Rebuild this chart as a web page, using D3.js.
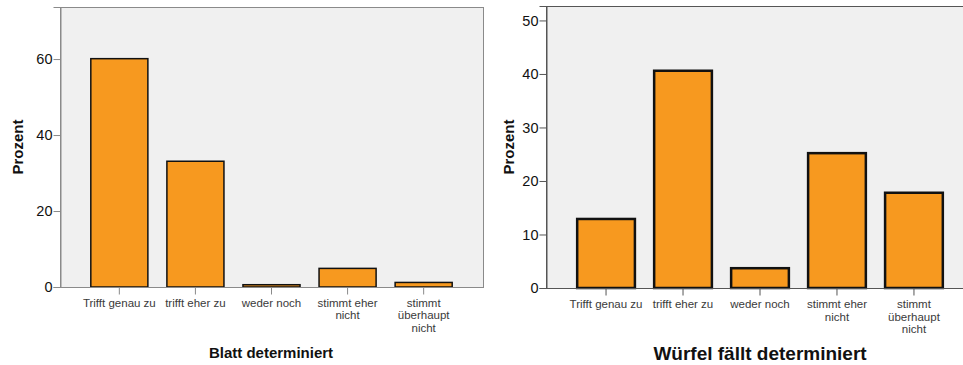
<!DOCTYPE html>
<html>
<head>
<meta charset="utf-8">
<script src="https://cdn.jsdelivr.net/npm/d3@7"></script>
<style>
  html, body { margin: 0; padding: 0; background: #fff; }
  svg { display: block; font-family: "Liberation Sans", Arial, sans-serif; }
</style>
</head>
<body>
<svg id="chart" width="963" height="365"></svg>
<script>
// Response categories (shared by both panels)
const categories = [
  "Trifft genau zu",
  "trifft eher zu",
  "weder noch",
  "stimmt eher nicht",
  "stimmt überhaupt nicht"
];
// Wrapped label lines for each category
const categoryLines = [
  ["Trifft genau zu"],
  ["trifft eher zu"],
  ["weder noch"],
  ["stimmt eher", "nicht"],
  ["stimmt", "überhaupt", "nicht"]
];

// Percent per category
const blattValues = [60.1, 33.1, 0.6, 4.9, 1.2];
const wuerfelValues = [12.9, 40.6, 3.7, 25.2, 17.8];

// Y-axis ticks
const blattTicks = [0, 20, 40, 60];
const wuerfelTicks = [0, 10, 20, 30, 40, 50];

const titles = ["Blatt determiniert", "Würfel fällt determiniert"];
const yTitle = "Prozent";

const svg = d3.select("#chart");

function panel(cfg) {
  const g = svg.append("g");
  const x = d3.scaleBand()
    .domain(categories)
    .range([cfg.left, cfg.right])
    .paddingInner(0.25)
    .paddingOuter(0.405);
  const y = d3.scaleLinear()
    .domain([0, cfg.yMax])
    .range([cfg.bottom, cfg.top]);

  // plot background and frame
  g.append("rect")
    .attr("x", cfg.left + 0.5).attr("y", cfg.top + 0.5)
    .attr("width", cfg.right - cfg.left).attr("height", cfg.bottom - cfg.top)
    .attr("fill", "#f0f0f0")
    .attr("stroke", cfg.frameColor).attr("stroke-width", 1);

  // bars
  g.selectAll("rect.bar")
    .data(cfg.values)
    .join("rect")
    .attr("class", "bar")
    .attr("x", (d, i) => x(categories[i]))
    .attr("width", x.bandwidth())
    .attr("y", d => y(d))
    .attr("height", d => y(0) - y(d))
    .attr("fill", "#f7991f")
    .attr("stroke", "#111")
    .attr("stroke-width", cfg.barStroke);

  // y axis
  const yAxis = g.append("g")
    .attr("transform", `translate(${cfg.left + 0.5},0)`)
    .call(d3.axisLeft(y).tickValues(cfg.ticks).tickSize(7).tickPadding(1).tickFormat(d3.format("d")));
  yAxis.select(".domain").attr("stroke", cfg.frameColor);
  yAxis.selectAll(".tick line").attr("stroke", cfg.frameColor);
  yAxis.selectAll(".tick text")
    .attr("font-size", "14.5px")
    .attr("fill", "#111")
    .attr("font-family", "'Liberation Sans', Arial, sans-serif");

  // x axis
  const xAxis = g.append("g")
    .attr("transform", `translate(0,${cfg.bottom + 0.5})`)
    .call(d3.axisBottom(x).tickSize(7).tickFormat(""));
  xAxis.select(".domain").attr("stroke", cfg.frameColor).attr("d", `M${cfg.left + 0.5},0H${cfg.right + 0.5}`);
  xAxis.selectAll(".tick line").attr("stroke", cfg.frameColor);

  // multi-line category labels, one text element per line
  const lab = g.append("g")
    .attr("font-size", "11.5px")
    .attr("fill", "#3a3a3a")
    .attr("text-anchor", "middle");
  categories.forEach((c, i) => {
    categoryLines[i].forEach((line, j) => {
      lab.append("text")
        .attr("x", x(c) + x.bandwidth() / 2)
        .attr("y", cfg.bottom + 20 + j * cfg.lineH)
        .text(line);
    });
  });

  // y title
  g.append("text")
    .attr("transform", `translate(${cfg.yTitleX},${(cfg.top + cfg.bottom) / 2}) rotate(-90)`)
    .attr("text-anchor", "middle")
    .attr("font-size", "15px")
    .attr("font-weight", "bold")
    .attr("fill", "#111")
    .text(yTitle);

  // x title
  g.append("text")
    .attr("x", cfg.titleX)
    .attr("y", cfg.titleY)
    .attr("text-anchor", "middle")
    .attr("font-size", cfg.titleSize)
    .attr("font-weight", "bold")
    .attr("fill", "#111")
    .text(cfg.title);
}

panel({
  left: 60, right: 483, top: 7, bottom: 287, yMax: 73.7,
  values: blattValues, ticks: blattTicks,
  frameColor: "#8a8a8a", barStroke: 1.5, lineH: 12.3,
  yTitleX: 23, title: titles[0], titleX: 271, titleY: 358, titleSize: "15px"
});

panel({
  left: 546, right: 974, top: 6, bottom: 288, yMax: 52.7,
  values: wuerfelValues, ticks: wuerfelTicks,
  frameColor: "#555", barStroke: 2.5, lineH: 12.7,
  yTitleX: 514, title: titles[1], titleX: 760, titleY: 360, titleSize: "19px"
});
</script>
</body>
</html>
